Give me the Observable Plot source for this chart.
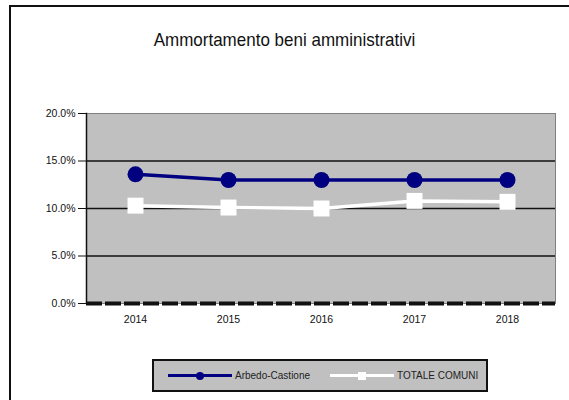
<!DOCTYPE html>
<html>
<head>
<meta charset="utf-8">
<script src="https://cdn.jsdelivr.net/npm/d3@7"></script>
<script src="https://cdn.jsdelivr.net/npm/@observablehq/plot@0.6"></script>
<style>
  html, body { margin: 0; padding: 0; background: #fff; }
  #wrap { position: relative; width: 569px; height: 400px; overflow: hidden; font-family: "Liberation Sans", Arial, sans-serif; }
  #border { position: absolute; left: 9px; top: 5px; width: 600px; height: 450px; border: 2px solid #111; box-sizing: border-box; }
  #title { position: absolute; left: 0; width: 569px; top: 30px; text-align: center; font-size: 17px; color: #111; transform: scaleY(1.12); }
  #chart { position: absolute; left: 0; top: 0; }
  #legend { position: absolute; left: 152px; top: 359px; width: 336px; height: 33px; box-sizing: border-box; border: 2px solid #111; background: #c0c0c0; font-size: 10px; color: #222; }
  .li { position: absolute; top: 0; height: 29px; display: flex; align-items: center; }
  .sw { position: relative; width: 64px; height: 10px; margin-right: 3px; }
  .sw .ln { position: absolute; left: 0; right: 0; top: 3.5px; height: 3px; }
  .sw .mk { position: absolute; left: 28px; top: 1px; width: 8px; height: 8px; }
</style>
</head>
<body>
<div id="wrap">
  <div id="border"></div>
  <div id="title">Ammortamento beni amministrativi</div>
  <div id="chart"></div>
  <div id="legend">
    <div class="li" style="left:14px"><div class="sw"><div class="ln" style="background:#000080"></div><div class="mk" style="background:#000080;border-radius:50%"></div></div><span id="l1"></span></div>
    <div class="li" style="left:176px"><div class="sw"><div class="ln" style="background:#fff"></div><div class="mk" style="background:#fff"></div></div><span id="l2"></span></div>
  </div>
</div>
<script>
const years = ["2014", "2015", "2016", "2017", "2018"];
const arbedo = [13.6, 13.0, 13.0, 13.0, 13.0];
const totale = [10.3, 10.1, 10.0, 10.8, 10.7];
const seriesNames = ["Arbedo-Castione", "TOTALE COMUNI"];
const yTicks = [0, 5, 10, 15, 20];

document.getElementById("l1").textContent = seriesNames[0];
document.getElementById("l2").textContent = seriesNames[1];

const dataA = years.map((y, i) => ({year: y, value: arbedo[i]}));
const dataT = years.map((y, i) => ({year: y, value: totale[i]}));

const chart = Plot.plot({
  width: 569,
  height: 400,
  marginLeft: 86,
  marginRight: 14,
  marginTop: 113,
  marginBottom: 97,
  style: {fontFamily: "'Liberation Sans', Arial, sans-serif", fontSize: "10.5px", color: "#111", background: "transparent"},
  x: {domain: years, type: "point", padding: 0.5, label: null},
  y: {domain: [0, 20], label: null},
  marks: [
    Plot.frame({fill: "#c0c0c0", stroke: "#808080", strokeWidth: 1}),
    Plot.ruleY([5, 10, 15], {stroke: "#111", strokeWidth: 1.5}),
    Plot.frame({anchor: "left", stroke: "#111", strokeWidth: 1.5}),
    Plot.ruleY([0], {stroke: "#111", strokeWidth: 4, strokeDasharray: "16,3"}),
    Plot.axisY({ticks: yTicks, tickFormat: d => d.toFixed(1) + "%", tickSize: 8, tickPadding: 3, stroke: "#111", label: null}),
    Plot.axisX({tickSize: 0, tickPadding: 12, label: null}),
    Plot.line(dataT, {x: "year", y: "value", stroke: "#ffffff", strokeWidth: 3.5}),
    Plot.dot(dataT, {x: "year", y: "value", symbol: "square", r: 9, fill: "#ffffff"}),
    Plot.line(dataA, {x: "year", y: "value", stroke: "#000080", strokeWidth: 3.5}),
    Plot.dot(dataA, {x: "year", y: "value", r: 8, fill: "#000080"})
  ]
});
document.getElementById("chart").appendChild(chart);
</script>
</body>
</html>
